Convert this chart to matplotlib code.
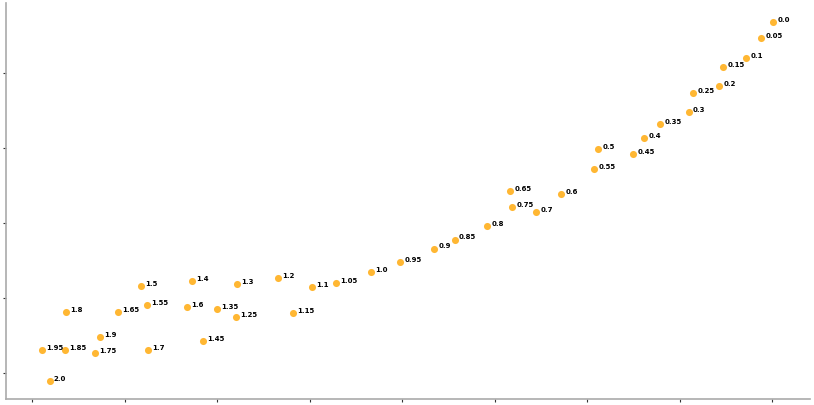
import matplotlib
matplotlib.use('Agg')
import matplotlib.pyplot as plt

# labels and 2D positions
labels = ['0.0', '0.05', '0.1', '0.15', '0.2', '0.25', '0.3', '0.35', '0.4', '0.45',
          '0.5', '0.55', '0.6', '0.65', '0.7', '0.75', '0.8', '0.85', '0.9', '0.95',
          '1.0', '1.05', '1.1', '1.15', '1.2', '1.25', '1.3', '1.35', '1.4', '1.45',
          '1.5', '1.55', '1.6', '1.65', '1.7', '1.75', '1.8', '1.85', '1.9', '1.95', '2.0']
xs = [8.01, 7.88, 7.72, 7.47, 7.43, 7.15, 7.10, 6.79, 6.62, 6.50,
      6.12, 6.08, 5.72, 5.17, 5.45, 5.19, 4.92, 4.57, 4.35, 3.98,
      3.66, 3.29, 3.03, 2.82, 2.66, 2.21, 2.22, 2.00, 1.73, 1.85,
      1.18, 1.24, 1.68, 0.93, 1.25, 0.68, 0.37, 0.36, 0.74, 0.11, 0.19]
ys = [4.69, 4.47, 4.21, 4.08, 3.83, 3.74, 3.48, 3.32, 3.13, 2.92,
      2.99, 2.72, 2.39, 2.43, 2.15, 2.22, 1.96, 1.78, 1.66, 1.48,
      1.34, 1.20, 1.14, 0.80, 1.27, 0.75, 1.18, 0.85, 1.23, 0.42,
      1.16, 0.91, 0.88, 0.81, 0.31, 0.26, 0.81, 0.30, 0.48, 0.30, -0.11]

fig = plt.figure(figsize=(8.14, 4.05), dpi=100)
ax = fig.add_axes([6 / 814, 6 / 405, 804 / 814, 396 / 405])

ax.scatter(xs, ys, s=26, color='orange', alpha=0.8, linewidths=0, zorder=3)
for x, y, lab in zip(xs, ys, labels):
    ax.annotate(lab, (x, y), xytext=(3, 1.5), textcoords='offset points',
                fontsize=5, fontweight='bold', ha='left', va='center')

ax.set_xlim(-0.281, 8.41)
ax.set_ylim(-0.35, 4.94)
ax.set_xticks(range(0, 9))
ax.set_yticks(range(0, 5))
ax.set_xticklabels([])
ax.set_yticklabels([])
ax.tick_params(length=2, width=0.8, color='#333333')
for side in ['top', 'right']:
    ax.spines[side].set_visible(False)
for side in ['left', 'bottom']:
    ax.spines[side].set_color('#aaaaaa')
    ax.spines[side].set_linewidth(1.2)

fig.savefig('out.png', dpi=100)
